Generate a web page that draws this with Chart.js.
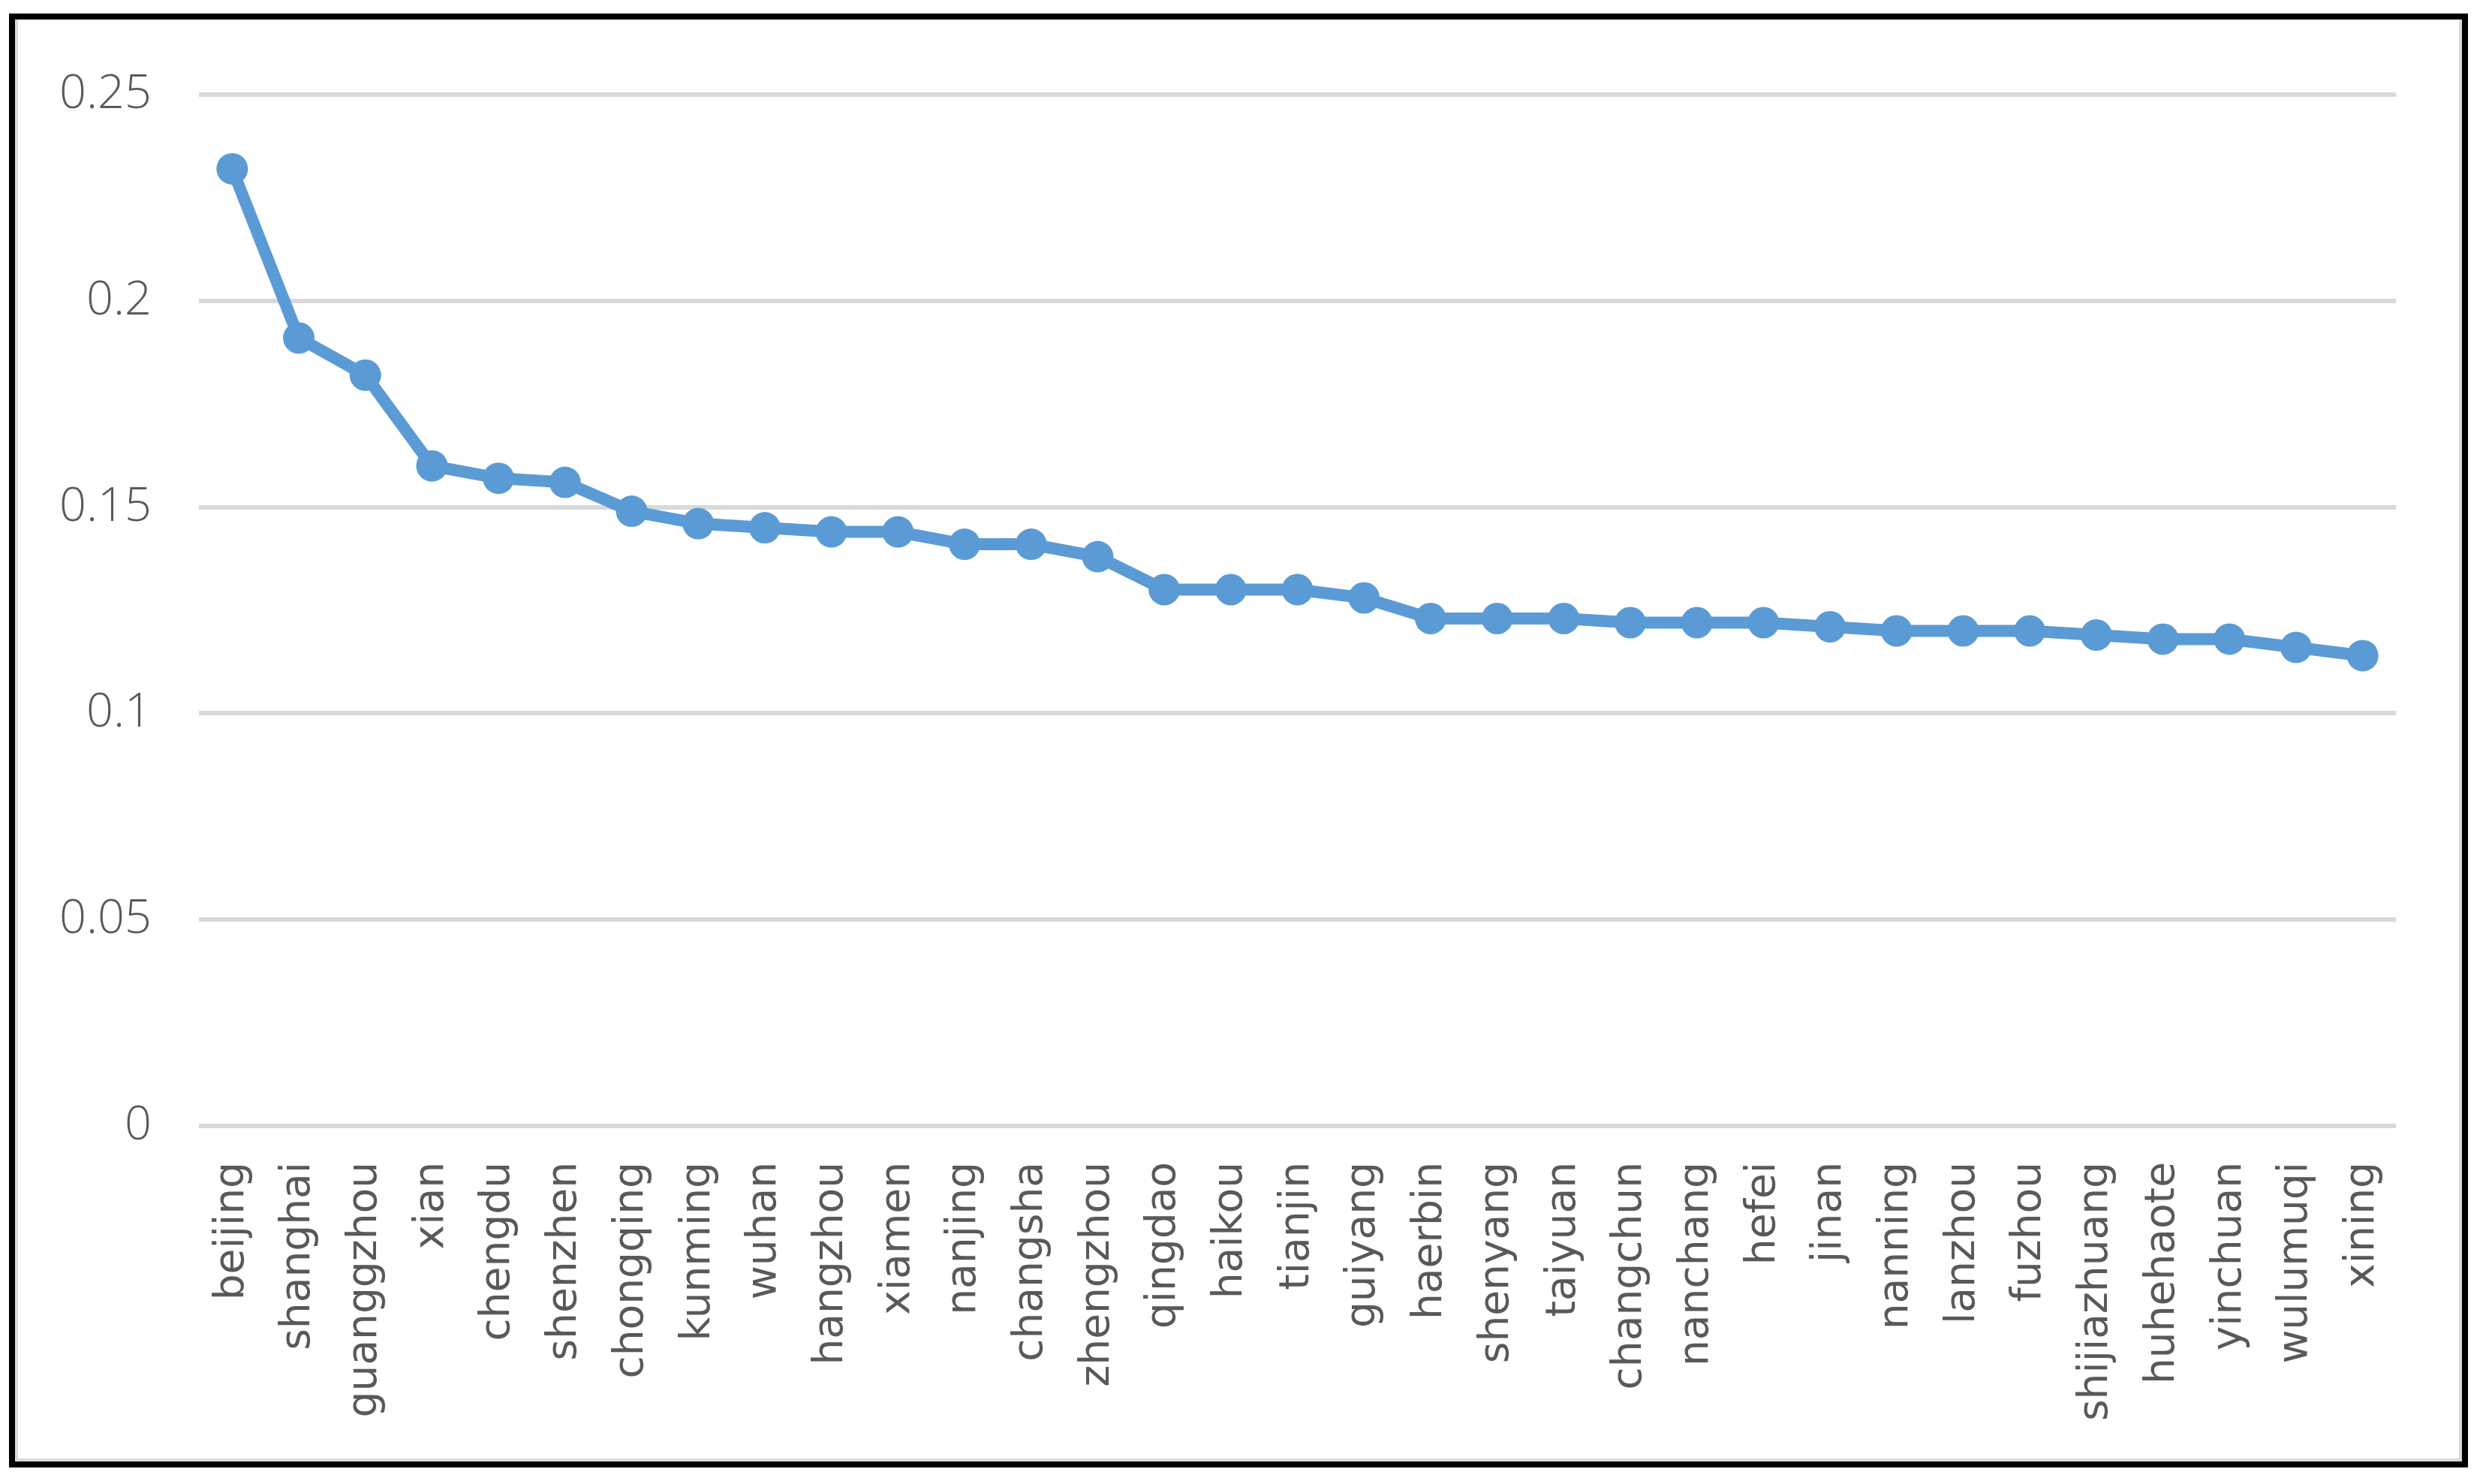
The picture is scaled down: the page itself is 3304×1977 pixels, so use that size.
<!DOCTYPE html>
<html>
<head>
<meta charset="utf-8">
<script src="https://cdn.jsdelivr.net/npm/chart.js@4/dist/chart.umd.min.js"></script>
<style>
  html, body { margin: 0; padding: 0; background: #ffffff; }
  body { width: 3304px; height: 1977px; position: relative; overflow: hidden; }
  #c { position: absolute; left: 0; top: 0; }
  #frame {
    position: absolute; left: 12px; top: 18px; width: 3276px; height: 1937px;
    border: 8px solid #000; box-sizing: border-box; pointer-events: none;
  }
  #inner {
    position: absolute; left: 0; top: 0; right: 0; bottom: 0;
    border-left: 4px solid #d9d9d9; border-right: 4px solid #d9d9d9; border-bottom: 4px solid #d9d9d9;
  }
</style>
</head>
<body>
<canvas id="c" width="3304" height="1977"></canvas>
<div id="frame"><div id="inner"></div></div>
<script>
const cities = ['beijing','shanghai','guanggzhou','xian','chengdu','shenzhen','chongqing','kunming','wuhan','hangzhou','xiamen','nanjing','changsha','zhengzhou','qingdao','haikou','tianjin','guiyang','haerbin','shenyang','taiyuan','changchun','nanchang','hefei','jinan','nanning','lanzhou','fuzhou','shijiazhuang','huhehaote','yinchuan','wulumuqi','xining'];
const values = [0.232,0.191,0.182,0.160,0.157,0.156,0.149,0.146,0.145,0.144,0.144,0.141,0.141,0.138,0.130,0.130,0.130,0.128,0.123,0.123,0.123,0.122,0.122,0.122,0.121,0.120,0.120,0.120,0.119,0.118,0.118,0.116,0.114];
const yTickValues = [0, 0.05, 0.1, 0.15, 0.2, 0.25];
const yTickLabels = ['0','0.05','0.1','0.15','0.2','0.25'];

new Chart(document.getElementById('c'), {
  type: 'line',
  data: {
    labels: cities,
    datasets: [{
      data: values,
      borderColor: '#5b9bd5',
      backgroundColor: '#5b9bd5',
      borderWidth: 16,
      pointRadius: 21,
      pointBackgroundColor: '#5b9bd5',
      pointBorderWidth: 0,
      tension: 0,
      fill: false
    }]
  },
  options: {
    responsive: false,
    animation: false,
    devicePixelRatio: 1,
    layout: { padding: { left: 0, top: 126, right: 112, bottom: 0 } },
    plugins: { legend: { display: false }, tooltip: { enabled: false } },
    scales: {
      x: {
        type: 'category',
        offset: true,
        grid: { display: false, drawTicks: false },
        border: { display: false },
        ticks: {
          autoSkip: false,
          minRotation: 90,
          maxRotation: 90,
          padding: 48,
          color: '#595959',
          font: { family: 'DejaVu Sans', size: 55 }
        },
        afterFit: (s) => { s.height = 477; }
      },
      y: {
        min: 0,
        max: 0.25,
        afterBuildTicks: (s) => { s.ticks = yTickValues.map(v => ({ value: v })); },
        grid: { color: '#d9d9d9', lineWidth: 6, drawTicks: false },
        border: { display: false },
        ticks: {
          padding: 63,
          color: '#595959',
          font: { family: 'Open Sans', size: 63, weight: '300' },
          callback: (v, i) => yTickLabels[i]
        },
        afterFit: (s) => { s.width = 265; }
      }
    }
  }
});
</script>
</body>
</html>
